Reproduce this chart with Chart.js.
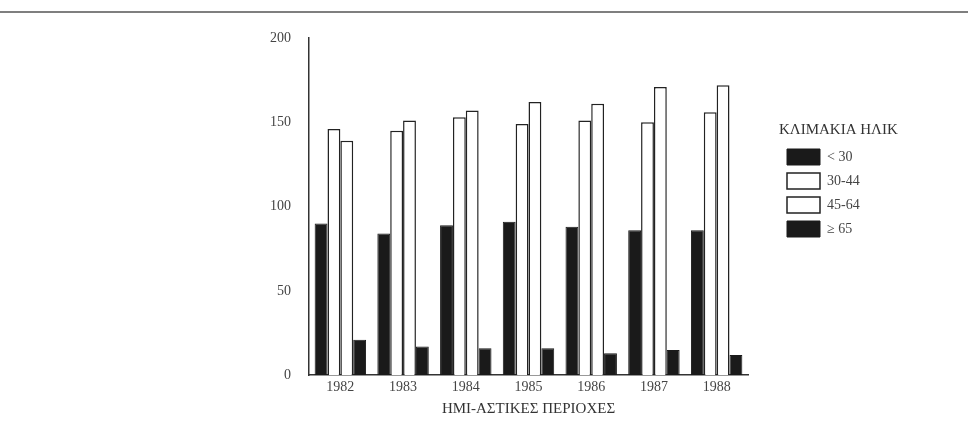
<!DOCTYPE html>
<html>
<head>
<meta charset="utf-8">
<script src="https://cdn.jsdelivr.net/npm/chart.js@4.4.1/dist/chart.umd.min.js"></script>
<style>
    html, body { margin: 0; padding: 0; background: #fff; }
    #wrap { width: 968px; height: 435px; }
</style>
</head>
<body>
<div id="wrap"><canvas id="ageChart"></canvas></div>
<script>
// Years on the x axis
const years = ['1982', '1983', '1984', '1985', '1986', '1987', '1988'];

// Values per age bracket
const under30 = [90, 84, 89, 91, 88, 86, 86];
const age30to44 = [146, 145, 153, 149, 151, 150, 156];
const age45to64 = [139, 151, 157, 162, 161, 171, 172];
const over65 = [21, 17, 16, 16, 13, 15, 12];

const yTicks = [0, 50, 100, 150, 200];

// Scan page rule along the top
const pageRule = {
    id: 'pageRule',
    beforeDraw(chart) {
        const c = chart.ctx;
        c.save();
        c.strokeStyle = '#555';
        c.lineWidth = 1.5;
        c.beginPath();
        c.moveTo(0, 12);
        c.lineTo(chart.width, 12);
        c.stroke();
        c.restore();
    }
};

// Reserve room for the legend, then move it a bit off the plot
const legendPlace = {
    id: 'legendPlace',
    beforeInit(chart) {
        const fit = chart.legend.fit;
        chart.legend.fit = function () {
            fit.call(this);
            this.width = 220;
        };
    },
    afterLayout(chart) {
        const lg = chart.legend;
        lg.left = 779;
        lg.width = 186;
        lg.right = lg.left + lg.width;
    }
};

const serif = "'Liberation Serif', 'DejaVu Serif', serif";

const ctx = document.getElementById('ageChart').getContext('2d');
new Chart(ctx, {
    type: 'bar',
    data: {
        labels: years,
        datasets: [
            { label: '< 30', data: under30, backgroundColor: '#1a1a1a', borderColor: '#1a1a1a', borderWidth: 1 },
            { label: '30-44', data: age30to44, backgroundColor: '#fff', borderColor: '#222', borderWidth: 1.5 },
            { label: '45-64', data: age45to64, backgroundColor: '#fff', borderColor: '#222', borderWidth: 1.5 },
            { label: '≥ 65', data: over65, backgroundColor: '#1a1a1a', borderColor: '#1a1a1a', borderWidth: 1 }
        ]
    },
    options: {
        responsive: true,
        maintainAspectRatio: false,
        animation: false,
        layout: { padding: { left: 252, right: 0, top: 38, bottom: 17 } },
        datasets: {
            bar: { categoryPercentage: 0.82, barPercentage: 1.0 }
        },
        plugins: {
            tooltip: { enabled: false },
            legend: {
                position: 'right',
                align: 'start',
                title: {
                    display: true,
                    text: 'ΚΛΙΜΑΚΙΑ ΗΛΙΚ',
                    position: 'start',
                    color: '#333',
                    font: { family: serif, size: 15 },
                    padding: { top: 85, bottom: 0 }
                },
                labels: {
                    color: '#444',
                    font: { family: serif, size: 14 },
                    boxWidth: 33,
                    boxHeight: 16,
                    padding: 8,
                    useBorderRadius: false
                }
            }
        },
        scales: {
            x: {
                grid: { display: false, drawTicks: false },
                border: { display: true, color: '#333', width: 1.5 },
                ticks: { color: '#444', font: { family: serif, size: 14 }, padding: 4 },
                title: {
                    display: true,
                    text: 'ΗΜΙ-ΑΣΤΙΚΕΣ ΠΕΡΙΟΧΕΣ',
                    color: '#333',
                    font: { family: serif, size: 15 },
                    padding: { top: 0, bottom: 0 }
                }
            },
            y: {
                min: 0,
                max: 200,
                afterBuildTicks(axis) {
                    axis.ticks = yTicks.map(v => ({ value: v }));
                },
                grid: { display: false, drawTicks: false },
                border: { display: true, color: '#333', width: 1.5 },
                ticks: { color: '#444', font: { family: serif, size: 14 }, padding: 18 }
            }
        }
    },
    plugins: [pageRule, legendPlace]
});
</script>
</body>
</html>
